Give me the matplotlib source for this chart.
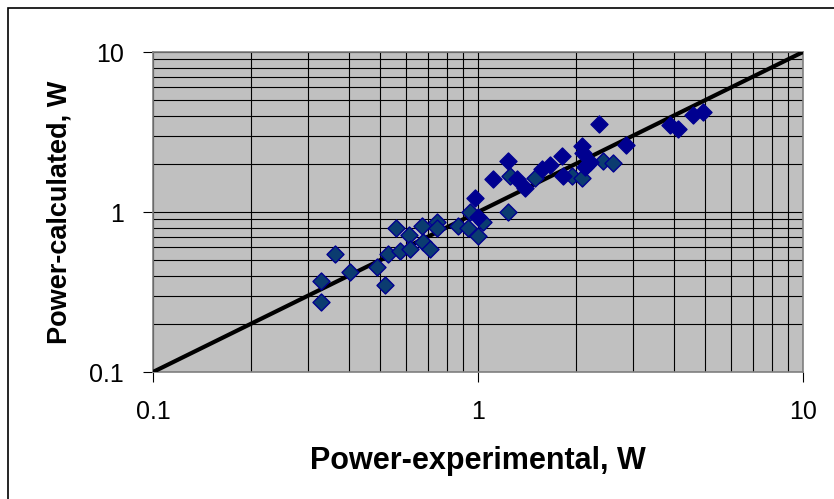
import numpy as np
import matplotlib
matplotlib.use("Agg")
import matplotlib.pyplot as plt
from matplotlib.patches import Rectangle
from matplotlib.ticker import LogLocator, FixedLocator, NullFormatter

plt.rcParams['font.family'] = ['Liberation Sans', 'DejaVu Sans']

# measured points, first set (teal fill)
exp_a = [0.329, 0.329, 0.363, 0.404, 0.489, 0.517, 0.56, 0.529, 0.575, 0.613,
         0.618, 0.673, 0.677, 0.712, 0.748, 0.748, 0.87, 0.945, 1.036, 0.932,
         1.0, 1.254, 1.237, 1.497, 1.946, 2.09, 2.42, 2.6]
calc_a = [0.272, 0.373, 0.55, 0.419, 0.456, 0.352, 0.789, 0.55, 0.574, 0.723,
          0.591, 0.812, 0.654, 0.591, 0.86, 0.8, 0.815, 1.0, 0.872, 0.789,
          0.713, 1.69, 0.993, 1.62, 1.69, 1.64, 2.07, 2.01]

# second set (navy fill)
exp_b = [0.979, 1.0, 1.112, 1.237, 1.318, 1.395, 1.574, 1.665, 1.813, 1.826,
         2.09, 2.1, 2.17, 2.21, 2.13, 2.36, 2.85, 3.9, 4.13, 4.59, 4.92]
calc_b = [1.23, 0.937, 1.6, 2.07, 1.6, 1.42, 1.87, 1.98, 2.25, 1.67,
          2.6, 2.35, 1.98, 2.04, 1.9, 3.57, 2.64, 3.52, 3.32, 4.01, 4.19]

# 1:1 line
line_x = [0.1, 10]
line_y = [0.1, 10]

tick_labels = ['0.1', '1', '10']

fig = plt.figure(figsize=(8.34, 4.99), dpi=100)
fig.patches.append(Rectangle((8 / 834, -0.5), 1.5, 1.5 - 8 / 499,
                             transform=fig.transFigure, fill=False,
                             edgecolor='black', linewidth=1.2))

ax = fig.add_axes([153 / 834, 1 - 372 / 499, 650 / 834, 320 / 499])
ax.set_facecolor('#C0C0C0')
ax.set_xscale('log')
ax.set_yscale('log')
ax.set_xlim(0.1, 10)
ax.set_ylim(0.1, 10)

ax.xaxis.set_major_locator(FixedLocator([0.1, 1, 10]))
ax.yaxis.set_major_locator(FixedLocator([0.1, 1, 10]))
ax.xaxis.set_minor_locator(LogLocator(base=10, subs=np.arange(2, 10)))
ax.yaxis.set_minor_locator(LogLocator(base=10, subs=np.arange(2, 10)))
ax.xaxis.set_minor_formatter(NullFormatter())
ax.yaxis.set_minor_formatter(NullFormatter())
ax.set_xticklabels(tick_labels)
ax.set_yticklabels(tick_labels)

ax.grid(True, which='both', color='black', linewidth=0.8)
ax.set_axisbelow(True)
ax.tick_params(which='minor', length=0)
ax.tick_params(which='major', direction='out', length=7, width=0.8,
               labelsize=18, color='black')
ax.tick_params(axis='x', pad=13)
ax.tick_params(axis='y', pad=14)

for s in ax.spines.values():
    s.set_color('#808080')
    s.set_linewidth(1.2)

ax.plot(line_x, line_y, color='black', linewidth=3.0, zorder=3)
ax.scatter(exp_a, calc_a, marker='D', s=75, facecolor='#0B3C70',
           edgecolor='#000090', linewidth=1.0, zorder=4)
ax.scatter(exp_b, calc_b, marker='D', s=75, facecolor='#000090',
           edgecolor='#000090', linewidth=1.0, zorder=4)

ax.set_xlabel('Power-experimental, W', fontsize=22, fontweight='bold', labelpad=16)
ax.set_ylabel('Power-calculated, W', fontsize=19.5, fontweight='bold', labelpad=12)

fig.savefig('out.png', dpi=100)
